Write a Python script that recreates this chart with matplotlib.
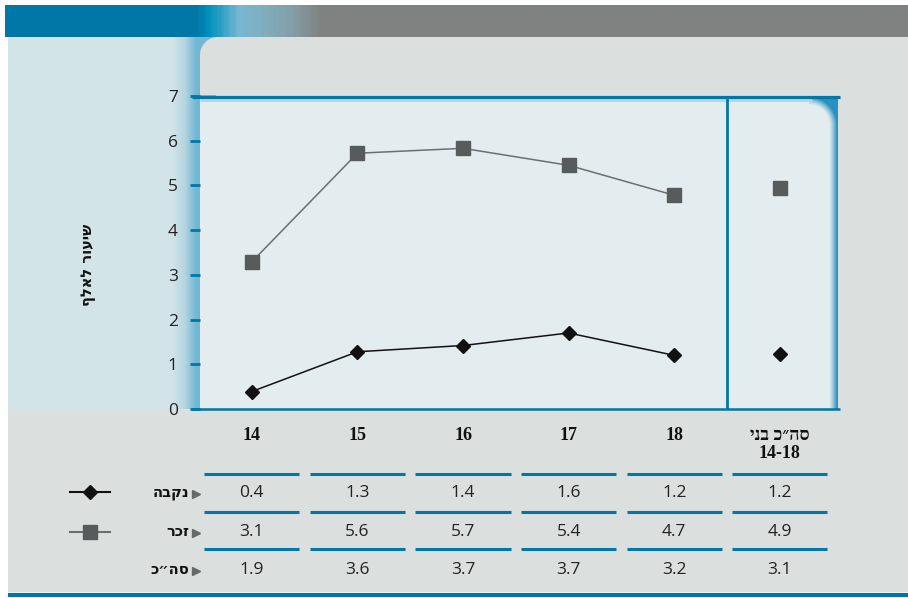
import numpy as np
import matplotlib
matplotlib.use("Agg")
import matplotlib.pyplot as plt
from matplotlib.colors import LinearSegmentedColormap, to_rgb
from matplotlib.patches import Rectangle, Polygon
from matplotlib.transforms import blended_transform_factory


# =============================================================================
# Dados
# =============================================================================

categorias = ['14', '15', '16', '17', '18', 'סה״כ בני\n14-18']

# valores lidos da posicao dos marcadores no grafico
nekeva_graf = [0.39, 1.28, 1.42, 1.70, 1.20, 1.23]
zachar_graf = [3.29, 5.72, 5.83, 5.45, 4.78, 4.95]

# valores impressos na tabela
nekeva_tab = [0.4, 1.3, 1.4, 1.6, 1.2, 1.2]
zachar_tab = [3.1, 5.6, 5.7, 5.4, 4.7, 4.9]
total_tab = [1.9, 3.6, 3.7, 3.7, 3.2, 3.1]

linhas_tab = ['נקבה', 'זכר', 'סה״כ']
rotulo_y = 'שיעור לאלף'
yticks = [0, 1, 2, 3, 4, 5, 6, 7]


# =============================================================================
# Cores / estilo
# =============================================================================

AZUL = '#0077a6'
CINZA_FUNDO = '#dbdfde'
PAINEL = '#d3e4e8'
AREA = '#e3ecee'
W, H = 908, 598


def heb(s):
    """matplotlib nao faz bidi: inverte as linhas em hebraico."""
    out = []
    for linha in s.split('\n'):
        if any('\u0590' <= c <= '\u05ff' for c in linha):
            out.append(linha[::-1])
        else:
            out.append(linha)
    return '\n'.join(out)


def gradiente(stops, n=400):
    pos = [p for p, _ in stops]
    pos = [(p - pos[0]) / (pos[-1] - pos[0]) for p in pos]
    cmap = LinearSegmentedColormap.from_list('g', list(zip(pos, [c for _, c in stops])))
    return cmap(np.linspace(0, 1, n))[None, :, :]


fig = plt.figure(figsize=(W / 100, H / 100), dpi=100)
fig.patch.set_facecolor('white')

# eixo de fundo em coordenadas de pixel
bg = fig.add_axes([0, 0, 1, 1], zorder=0)
bg.set_xlim(0, W)
bg.set_ylim(H, 0)
bg.axis('off')

bg.add_patch(Rectangle((8, 37), W - 8, 555, color=CINZA_FUNDO, lw=0))
bg.add_patch(Rectangle((8, 37), 192, 372, color=PAINEL, lw=0))

# faixa superior
faixa = gradiente([(5, AZUL), (195, AZUL), (208, '#0092bf'), (238, '#78b8d2'),
                   (262, '#80aec0'), (292, '#849ea6'), (320, '#7f8281'), (908, '#7f8281')])
bg.imshow(faixa, extent=[5, W, 37, 5], aspect='auto', zorder=1)

# faixa azul lateral esquerda
lateral = gradiente([(172, PAINEL), (185, '#b4d5e0'), (196, '#72b7d4'), (216, '#72b7d4')])
bg.imshow(lateral, extent=[172, 216, 409, 37], aspect='auto', zorder=1)

# area cinza acima do grafico com canto arredondado
r = 18
ang = np.linspace(np.pi, 1.5 * np.pi, 20)
canto = np.column_stack([200 + r + r * np.cos(ang), 37 + r + r * np.sin(ang)])
poly = np.vstack([[[200, 95]], canto, [[W, 37], [W, 95]]])
bg.add_patch(Polygon(poly, closed=True, color=CINZA_FUNDO, lw=0, zorder=2))

# area do grafico + gradiente no lado direito
bg.add_patch(Rectangle((200, 96), 600, 313, color=AREA, lw=0, zorder=2))
xs = np.arange(780, 838) + 0.5
ys = np.arange(96, 409) + 0.5
X, Y = np.meshgrid(xs, ys)
xr, yt, R = 837.0, 97.0, 28.0
d = xr - X
mc = (X > xr - R) & (Y < yt + R)
d[mc] = R - np.hypot(X[mc] - (xr - R), Y[mc] - (yt + R))
alfa = np.clip(1 - d / 8.0, 0, 1)[..., None] ** 1.3
img = (1 - alfa) * np.array(to_rgb(AREA)) + alfa * np.array(to_rgb('#2a90bf'))
bg.imshow(img, extent=[780, 838, 409, 96], aspect='auto', zorder=2, interpolation='bilinear')

# linhas horizontais do grafico
bg.plot([200, 812], [99.5, 99.5], color='#b3d5e1', lw=2, zorder=3, solid_capstyle='butt')
bg.plot([192, 840], [96.5, 96.5], color=AZUL, lw=2.3, zorder=3, solid_capstyle='butt')
bg.plot([192, 840], [408.5, 408.5], color=AZUL, lw=1.8, zorder=3, solid_capstyle='butt')

# linha inferior
bg.plot([8, W], [594.5, 594.5], color=AZUL, lw=3, zorder=3, solid_capstyle='butt')


# =============================================================================
# Grafico
# =============================================================================

ax = fig.add_axes([200 / W, 1 - 409 / H, 638 / W, 313 / H], zorder=2)
ax.set_facecolor('none')
x = np.arange(len(categorias))
ax.set_xlim(-0.49, 5.55)
ax.set_ylim(0, 7)

ax.plot(x[:5], zachar_graf[:5], color='#6b6f70', lw=1.1, marker='s', ms=10,
        mfc='#575b5c', mec='#575b5c')
ax.plot(x[5], zachar_graf[5], ls='none', marker='s', ms=10, mfc='#575b5c', mec='#575b5c')
ax.plot(x[:5], nekeva_graf[:5], color='#111111', lw=1.1, marker='D', ms=7.2,
        mfc='#111111', mec='#111111')
ax.plot(x[5], nekeva_graf[5], ls='none', marker='D', ms=7.2, mfc='#111111', mec='#111111')

ax.axvline(4.5, ymin=0, ymax=(409 - 100) / 313, color=AZUL, lw=2)

for s in ax.spines.values():
    s.set_visible(False)
ax.set_yticks(yticks)
ax.tick_params(axis='y', direction='out', length=7, width=2, color=AZUL,
               labelsize=12.5, labelcolor='#222222', pad=9)
for t in ax.get_yticklabels():
    t.set_fontfamily('Open Sans')

ax.set_xticks(x)
ax.set_xticklabels([heb(c) for c in categorias], fontsize=13, fontweight='bold',
                   family=['Liberation Serif', 'DejaVu Sans'], color='#111111',
                   linespacing=1.1)
ax.tick_params(axis='x', length=0, pad=13)

fig.text(88 / W, 1 - 265 / H, heb(rotulo_y), rotation=90, ha='center', va='center',
         fontsize=10.5, fontweight='bold', family=['DejaVu Sans'], color='#111111')


# =============================================================================
# Tabela
# =============================================================================

tr = blended_transform_factory(ax.transData, bg.transData)
for yl in [473.5, 511.5, 549]:
    for i in x:
        bg.plot([i - 0.45, i + 0.45], [yl, yl], color=AZUL, lw=2.2, transform=tr,
                solid_capstyle='butt', zorder=3)

linhas_y = [493, 532, 570]
for yl, vals in zip(linhas_y, [nekeva_tab, zachar_tab, total_tab]):
    for i, v in zip(x, vals):
        bg.text(i, yl, f'{v:.1f}', transform=tr, ha='center', va='center',
                fontsize=12.5, family='Open Sans', color='#222222', zorder=4)

for yl, nome in zip(linhas_y, linhas_tab):
    bg.text(189, yl, heb(nome), ha='right', va='center', fontsize=10.5,
            fontweight='bold', family=['DejaVu Sans'], color='#111111', zorder=4)
    bg.plot(196, yl + 0.5, marker='>', ms=6, color='#666a6b', ls='none', zorder=4)

# legenda
bg.plot([70, 110], [492, 492], color='#111111', lw=1.5, zorder=4)
bg.plot(90, 492, marker='D', ms=7, color='#111111', zorder=4)
bg.plot([70, 110], [532, 532], color='#6b6f70', lw=1.5, zorder=4)
bg.plot(90, 532, marker='s', ms=10, color='#575b5c', zorder=4)

fig.savefig('out.png', dpi=100)
